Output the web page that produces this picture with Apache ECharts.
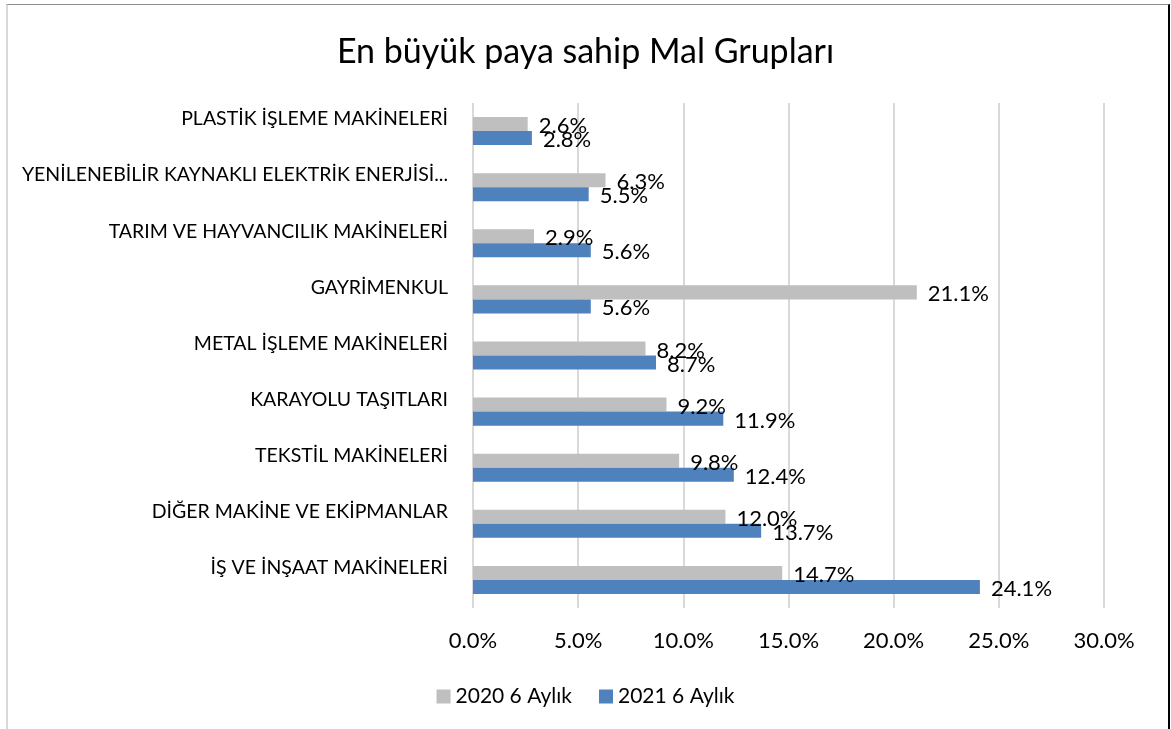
<!DOCTYPE html>
<html lang="tr">
<head>
<meta charset="UTF-8">
<title>En büyük paya sahip Mal Grupları</title>
<script src="https://cdn.jsdelivr.net/npm/echarts@6/dist/echarts.min.js"></script>
<style>
	html, body { margin: 0; padding: 0; background: #fff; }
	#main { position: absolute; left: 0; top: 0; width: 1171px; height: 729px; }
	#frame {
		position: absolute; left: 6px; top: 4px; width: 1160px; height: 730px;
		border-top: 1px solid #8c8c8c; border-left: 2px solid #d9d9d9; border-right: 2px solid #000;
		pointer-events: none;
	}
</style>
</head>
<body>
	<div id="main"></div>
	<div id="frame"></div>
	<script type="text/javascript">
		// kategoriler yukaridan asagiya
		var categories = [
			'PLASTİK İŞLEME MAKİNELERİ',
			'YENİLENEBİLİR KAYNAKLI ELEKTRİK ENERJİSİ...',
			'TARIM VE HAYVANCILIK MAKİNELERİ',
			'GAYRİMENKUL',
			'METAL İŞLEME MAKİNELERİ',
			'KARAYOLU TAŞITLARI',
			'TEKSTİL MAKİNELERİ',
			'DİĞER MAKİNE VE EKİPMANLAR',
			'İŞ VE İNŞAAT MAKİNELERİ'
		];
		var values2020 = [2.6, 6.3, 2.9, 21.1, 8.2, 9.2, 9.8, 12.0, 14.7];
		var values2021 = [2.8, 5.5, 5.6, 5.6, 8.7, 11.9, 12.4, 13.7, 24.1];
		var seriesNames = ['2020 6 Aylık', '2021 6 Aylık'];

		var font = 'Lato, "Open Sans", sans-serif';
		var mychart = echarts.init(document.getElementById('main'));

		function pct(v) {
			return v.toFixed(1) + '%';
		}

		var labelStyle = {
			show: true,
			position: 'right',
			distance: 11,
			offset: [0, 2],
			color: '#000',
			fontSize: 22,
			fontFamily: font,
			formatter: function (p) { return pct(p.value); }
		};

		var option = {
			animation: false,
			title: {
				text: 'En büyük paya sahip Mal Grupları',
				left: 'center',
				top: 30,
				textStyle: { fontSize: 34, fontWeight: 'normal', color: '#000', fontFamily: font }
			},
			legend: {
				data: seriesNames,
				left: 'center',
				top: 681,
				itemWidth: 14,
				itemHeight: 14,
				itemGap: 27,
				icon: 'rect',
				textStyle: { fontSize: 21, color: '#000', fontFamily: font }
			},
			grid: { left: 473, right: 67, top: 103, bottom: 121, containLabel: false },
			xAxis: {
				type: 'value',
				min: 0,
				max: 30,
				interval: 5,
				axisLine: { show: false },
				axisTick: { show: false },
				splitLine: { lineStyle: { color: '#d9d9d9', width: 2 } },
				axisLabel: {
					margin: 22,
					fontSize: 22,
					color: '#000',
					fontFamily: font,
					formatter: function (v) { return pct(v); }
				}
			},
			yAxis: {
				type: 'category',
				inverse: true,
				data: categories,
				axisLine: { show: false },
				axisTick: { show: false },
				axisLabel: {
					margin: 25,
					fontSize: 19.5,
					color: '#000',
					fontFamily: font,
					verticalAlign: 'bottom',
					padding: [0, 0, 2, 0]
				}
			},
			series: [{
				name: seriesNames[0],
				type: 'bar',
				data: values2020,
				barGap: '0%',
				barCategoryGap: '50%',
				itemStyle: { color: '#bfbfbf' },
				label: labelStyle
			}, {
				name: seriesNames[1],
				type: 'bar',
				data: values2021,
				barGap: '0%',
				barCategoryGap: '50%',
				itemStyle: { color: '#4f81bd' },
				label: labelStyle
			}]
		};
		mychart.setOption(option);
	</script>
</body>
</html>
